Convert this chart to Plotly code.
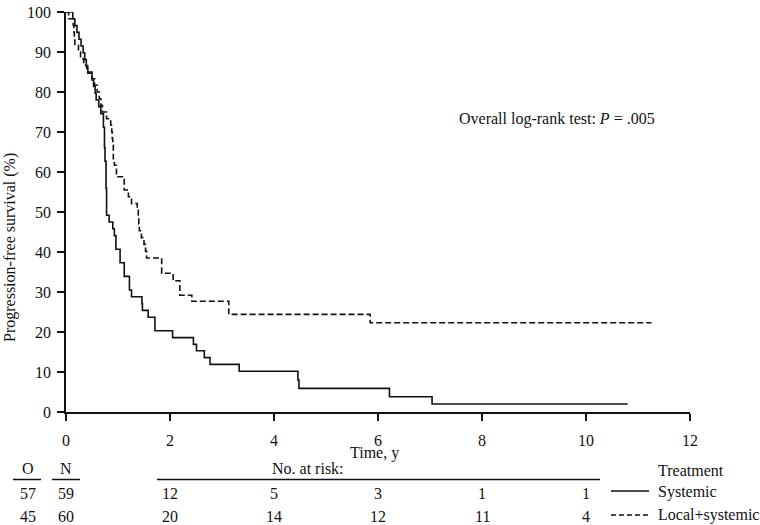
import plotly.graph_objects as go

# ---- data ----
series_names = ["Systemic", "Local+systemic"]

sys_time = [0, 0.13, 0.17, 0.21, 0.25, 0.29, 0.33, 0.36, 0.39, 0.42, 0.50, 0.53, 0.56, 0.58,
            0.63, 0.67, 0.72, 0.74, 0.75, 0.77, 0.78, 0.83, 0.90, 0.93, 0.96, 1.04, 1.12,
            1.22, 1.26, 1.46, 1.47, 1.58, 1.71, 2.05, 2.45, 2.51, 2.66, 2.77, 3.33, 4.46,
            4.48, 6.22, 7.04, 10.8]
sys_surv = [100, 98.3, 96.6, 94.9, 93.2, 91.5, 89.8, 88.1, 86.4, 84.7, 83.0, 81.4, 79.7, 78.0,
            76.3, 74.6, 71.2, 66.1, 62.7, 55.9, 49.2, 47.5, 45.8, 44.1, 40.7, 37.3, 33.9,
            30.5, 28.8, 27.1, 25.4, 23.7, 20.3, 18.6, 16.9, 15.3, 13.6, 11.9, 10.2, 8.0,
            5.9, 3.8, 2.0, 2.0]

loc_time = [0, 0.05, 0.14, 0.15, 0.16, 0.17, 0.24, 0.28, 0.34, 0.40, 0.50, 0.55, 0.60, 0.64,
            0.67, 0.70, 0.78, 0.86, 0.88, 0.89, 0.90, 0.91, 0.93, 0.97, 1.12, 1.20, 1.26,
            1.37, 1.39, 1.40, 1.41, 1.45, 1.50, 1.53, 1.55, 1.84, 2.06, 2.19, 2.42, 3.13,
            5.85, 11.26]
loc_surv = [100, 98.3, 96.7, 95.0, 93.3, 91.7, 90.0, 88.3, 86.7, 85.0, 83.3, 81.7, 80.0, 78.3,
            76.7, 75.0, 73.3, 71.7, 70.0, 68.3, 66.7, 63.3, 61.7, 58.8, 55.5, 53.8, 52.1,
            50.4, 48.7, 47.0, 45.3, 43.6, 41.9, 40.2, 38.5, 34.7, 32.8, 29.2, 27.7, 24.4,
            22.3, 22.3]

x_ticks = [0, 2, 4, 6, 8, 10, 12]
y_ticks = [0, 10, 20, 30, 40, 50, 60, 70, 80, 90, 100]

risk_times = [2, 4, 6, 8, 10]
risk_systemic = [12, 5, 3, 1, 1]
risk_local = [20, 14, 12, 11, 4]
observed = [57, 45]
total_n = [59, 60]

FONT = "Liberation Serif"
INK = "#111111"
DASH = "6px,3px"

fig = go.Figure()
fig.add_trace(go.Scatter(x=sys_time, y=sys_surv, mode="lines", line_shape="hv",
                         line=dict(color=INK, width=1.6), name=series_names[0],
                         cliponaxis=False, showlegend=False))
fig.add_trace(go.Scatter(x=loc_time, y=loc_surv, mode="lines", line_shape="hv",
                         line=dict(color=INK, width=1.6, dash=DASH), name=series_names[1],
                         cliponaxis=False, showlegend=False))

L, R, T, B = 66, 70, 12, 113
W, H = 760, 525
PW, PH = W - L - R, H - T - B


def px(xp):
    return (xp - L) / PW


def py(yp):
    return (H - B - yp) / PH


def note(text, xp, yp, xanchor="center", **kw):
    return dict(text=text, x=px(xp), y=py(yp), xref="paper", yref="paper", showarrow=False,
                xanchor=xanchor, yanchor="middle", **kw)


ann = []
ann.append(note("Progression-free survival (%)", 10, 248, textangle=-90))
ann.append(note("Time, y", 374, 453))
ann.append(note("Overall log-rank test: <i>P</i> = .005", 556.5, 119))
ann.append(note("O", 28, 468))
ann.append(note("N", 66, 468))
ann.append(note("No. at risk:", 307.5, 468))
ann.append(note("Treatment", 656, 470, xanchor="left"))
row_y = [493, 516]
for i in range(2):
    ann.append(note(str(observed[i]), 28, row_y[i]))
    ann.append(note(str(total_n[i]), 66, row_y[i]))
    ann.append(note(series_names[i], 656, row_y[i] - 1, xanchor="left"))
for t, a, b in zip(risk_times, risk_systemic, risk_local):
    ann.append(dict(text=str(a), x=t, y=py(row_y[0]), xref="x", yref="paper", showarrow=False,
                    xanchor="center", yanchor="middle"))
    ann.append(dict(text=str(b), x=t, y=py(row_y[1]), xref="x", yref="paper", showarrow=False,
                    xanchor="center", yanchor="middle"))

shapes = []
ul_y = py(479.5)
for x0, x1 in [(13, 41), (52, 80), (157, 600)]:
    shapes.append(dict(type="line", xref="paper", yref="paper", x0=px(x0), x1=px(x1), y0=ul_y, y1=ul_y,
                       line=dict(color=INK, width=1.5)))
shapes.append(dict(type="line", xref="paper", yref="paper", x0=px(611), x1=px(649), y0=py(491), y1=py(491),
                   line=dict(color=INK, width=1.5)))
shapes.append(dict(type="line", xref="paper", yref="paper", x0=px(611), x1=px(649), y0=py(515), y1=py(515),
                   line=dict(color=INK, width=1.5, dash="5px,3px")))

fig.update_layout(
    template="none",
    width=W, height=H,
    margin=dict(l=L, r=R, t=T, b=B, pad=0, autoexpand=False),
    paper_bgcolor="white", plot_bgcolor="white",
    font=dict(family=FONT, size=16, color=INK),
    annotations=ann, shapes=shapes,
    showlegend=False,
)
fig.update_xaxes(range=[0, 12], tickvals=x_ticks, ticktext=[str(v) for v in x_ticks],
                 showgrid=False, zeroline=False, showline=True, linecolor=INK, linewidth=1.6,
                 ticks="outside", ticklen=7, tickwidth=1.5, tickcolor=INK, ticklabelstandoff=6,
                 automargin=False, tickfont=dict(family=FONT, size=16, color=INK))
fig.update_yaxes(range=[0, 100], tickvals=y_ticks, ticktext=[str(v) for v in y_ticks],
                 showgrid=False, zeroline=False, showline=True, linecolor=INK, linewidth=1.6,
                 ticks="outside", ticklen=7, tickwidth=1.5, tickcolor=INK, ticklabelstandoff=3,
                 automargin=False, tickfont=dict(family=FONT, size=16, color=INK))

fig.write_html("out.html", config={"displayModeBar": False},
               post_script="document.body.style.margin='0';")
